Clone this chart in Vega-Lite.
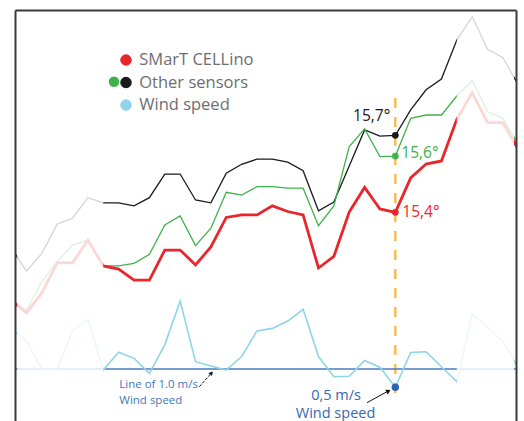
{
  "$schema": "https://vega.github.io/schema/vega-lite/v6.json",
  "width": 501,
  "height": 411,
  "autosize": "none",
  "padding": {"left": 15, "top": 10, "right": 8, "bottom": 0},
  "background": "white",
  "config": {"view": {"stroke": null}, "font": "Open Sans"},
  "data": {"values": [
    {"t":0,"series":"SMarT CELLino","value":15.058},{"t":1,"series":"SMarT CELLino","value":15.008},{"t":2,"series":"SMarT CELLino","value":15.086},{"t":3,"series":"SMarT CELLino","value":15.203},{"t":4,"series":"SMarT CELLino","value":15.203},{"t":5,"series":"SMarT CELLino","value":15.292},{"t":6,"series":"SMarT CELLino","value":15.191},{"t":7,"series":"SMarT CELLino","value":15.179},{"t":8,"series":"SMarT CELLino","value":15.136},{"t":9,"series":"SMarT CELLino","value":15.136},{"t":10,"series":"SMarT CELLino","value":15.253},{"t":11,"series":"SMarT CELLino","value":15.253},{"t":12,"series":"SMarT CELLino","value":15.195},{"t":13,"series":"SMarT CELLino","value":15.265},{"t":14,"series":"SMarT CELLino","value":15.380},{"t":15,"series":"SMarT CELLino","value":15.390},{"t":16,"series":"SMarT CELLino","value":15.390},{"t":17,"series":"SMarT CELLino","value":15.425},{"t":18,"series":"SMarT CELLino","value":15.403},{"t":19,"series":"SMarT CELLino","value":15.390},{"t":20,"series":"SMarT CELLino","value":15.183},{"t":21,"series":"SMarT CELLino","value":15.228},{"t":22,"series":"SMarT CELLino","value":15.401},{"t":23,"series":"SMarT CELLino","value":15.497},{"t":24,"series":"SMarT CELLino","value":15.413},{"t":25,"series":"SMarT CELLino","value":15.400},{"t":26,"series":"SMarT CELLino","value":15.534},{"t":27,"series":"SMarT CELLino","value":15.588},{"t":28,"series":"SMarT CELLino","value":15.600},{"t":29,"series":"SMarT CELLino","value":15.762},{"t":30,"series":"SMarT CELLino","value":15.866},{"t":31,"series":"SMarT CELLino","value":15.749},{"t":32,"series":"SMarT CELLino","value":15.749},{"t":33,"series":"SMarT CELLino","value":15.645},
    {"t":0,"series":"Other sensors","value":15.263},{"t":1,"series":"Other sensors","value":15.171},{"t":2,"series":"Other sensors","value":15.240},{"t":3,"series":"Other sensors","value":15.354},{"t":4,"series":"Other sensors","value":15.377},{"t":5,"series":"Other sensors","value":15.457},{"t":6,"series":"Other sensors","value":15.437},{"t":7,"series":"Other sensors","value":15.437},{"t":8,"series":"Other sensors","value":15.425},{"t":9,"series":"Other sensors","value":15.457},{"t":10,"series":"Other sensors","value":15.549},{"t":11,"series":"Other sensors","value":15.549},{"t":12,"series":"Other sensors","value":15.448},{"t":13,"series":"Other sensors","value":15.437},{"t":14,"series":"Other sensors","value":15.552},{"t":15,"series":"Other sensors","value":15.587},{"t":16,"series":"Other sensors","value":15.607},{"t":17,"series":"Other sensors","value":15.607},{"t":18,"series":"Other sensors","value":15.595},{"t":19,"series":"Other sensors","value":15.562},{"t":20,"series":"Other sensors","value":15.406},{"t":21,"series":"Other sensors","value":15.440},{"t":22,"series":"Other sensors","value":15.580},{"t":23,"series":"Other sensors","value":15.721},{"t":24,"series":"Other sensors","value":15.697},{"t":25,"series":"Other sensors","value":15.700},{"t":26,"series":"Other sensors","value":15.799},{"t":27,"series":"Other sensors","value":15.877},{"t":28,"series":"Other sensors","value":15.919},{"t":29,"series":"Other sensors","value":16.071},{"t":30,"series":"Other sensors","value":16.162},{"t":31,"series":"Other sensors","value":16.035},{"t":32,"series":"Other sensors","value":16.002},{"t":33,"series":"Other sensors","value":15.896},
    {"t":0,"series":"Other sensors 2","value":15.058},{"t":1,"series":"Other sensors 2","value":15.018},{"t":2,"series":"Other sensors 2","value":15.130},{"t":3,"series":"Other sensors 2","value":15.208},{"t":4,"series":"Other sensors 2","value":15.273},{"t":5,"series":"Other sensors 2","value":15.292},{"t":6,"series":"Other sensors 2","value":15.191},{"t":7,"series":"Other sensors 2","value":15.191},{"t":8,"series":"Other sensors 2","value":15.201},{"t":9,"series":"Other sensors 2","value":15.236},{"t":10,"series":"Other sensors 2","value":15.351},{"t":11,"series":"Other sensors 2","value":15.386},{"t":12,"series":"Other sensors 2","value":15.270},{"t":13,"series":"Other sensors 2","value":15.338},{"t":14,"series":"Other sensors 2","value":15.478},{"t":15,"series":"Other sensors 2","value":15.467},{"t":16,"series":"Other sensors 2","value":15.500},{"t":17,"series":"Other sensors 2","value":15.500},{"t":18,"series":"Other sensors 2","value":15.494},{"t":19,"series":"Other sensors 2","value":15.494},{"t":20,"series":"Other sensors 2","value":15.348},{"t":21,"series":"Other sensors 2","value":15.425},{"t":22,"series":"Other sensors 2","value":15.656},{"t":23,"series":"Other sensors 2","value":15.725},{"t":24,"series":"Other sensors 2","value":15.617},{"t":25,"series":"Other sensors 2","value":15.619},{"t":26,"series":"Other sensors 2","value":15.766},{"t":27,"series":"Other sensors 2","value":15.779},{"t":28,"series":"Other sensors 2","value":15.779},{"t":29,"series":"Other sensors 2","value":15.853},{"t":30,"series":"Other sensors 2","value":15.913},{"t":31,"series":"Other sensors 2","value":15.792},{"t":32,"series":"Other sensors 2","value":15.766},{"t":33,"series":"Other sensors 2","value":15.665},
    {"t":0,"series":"Wind speed","value":2.09},{"t":1,"series":"Wind speed","value":1.77},{"t":2,"series":"Wind speed","value":0.99},{"t":3,"series":"Wind speed","value":0.99},{"t":4,"series":"Wind speed","value":2.05},{"t":5,"series":"Wind speed","value":2.36},{"t":6,"series":"Wind speed","value":0.97},{"t":7,"series":"Wind speed","value":1.46},{"t":8,"series":"Wind speed","value":1.29},{"t":9,"series":"Wind speed","value":0.88},{"t":10,"series":"Wind speed","value":1.66},{"t":11,"series":"Wind speed","value":2.86},{"t":12,"series":"Wind speed","value":1.20},{"t":13,"series":"Wind speed","value":1.08},{"t":14,"series":"Wind speed","value":0.97},{"t":15,"series":"Wind speed","value":1.34},{"t":16,"series":"Wind speed","value":2.04},{"t":17,"series":"Wind speed","value":2.11},{"t":18,"series":"Wind speed","value":2.31},{"t":19,"series":"Wind speed","value":2.63},{"t":20,"series":"Wind speed","value":1.34},{"t":21,"series":"Wind speed","value":0.79},{"t":22,"series":"Wind speed","value":0.80},{"t":23,"series":"Wind speed","value":1.23},{"t":24,"series":"Wind speed","value":1.05},{"t":25,"series":"Wind speed","value":0.50},{"t":26,"series":"Wind speed","value":1.45},{"t":27,"series":"Wind speed","value":1.47},{"t":28,"series":"Wind speed","value":1.06},{"t":29,"series":"Wind speed","value":0.65},{"t":30,"series":"Wind speed","value":2.50},{"t":31,"series":"Wind speed","value":2.14},{"t":32,"series":"Wind speed","value":1.75},{"t":33,"series":"Wind speed","value":1.03}
  ]},
  "layer": [
    {
      "layer": [
        {
          "transform": [{"filter": "datum.series === 'Other sensors' || datum.series === 'Other sensors 2'"}],
          "mark": {"type": "line", "strokeWidth": 1.3, "clip": true},
          "encoding": {
            "x": {"field": "t", "type": "quantitative", "scale": {"domain": [0.255, 32.851], "nice": false, "zero": false},
                  "axis": {"orient": "top", "domain": true, "domainColor": "#3a3a3a", "domainWidth": 2, "ticks": false, "labels": false, "grid": false, "title": null, "zindex": 1}},
            "y": {"field": "value", "type": "quantitative", "scale": {"domain": [14.587, 16.188], "nice": false, "zero": false},
                  "axis": {"orient": "left", "domain": true, "domainColor": "#3a3a3a", "domainWidth": 2, "ticks": false, "labels": false, "grid": false, "title": null, "zindex": 1}},
            "color": {"field": "series", "type": "nominal",
                      "scale": {"domain": ["SMarT CELLino", "Other sensors", "Wind speed", "Other sensors 2"], "range": ["#e8262b", "#1a1a1a", "#8fd4e8", "#3fb34a"]},
                      "legend": {"orient": "none", "legendX": 102.75, "legendY": 41.75, "title": null,
                                 "values": ["SMarT CELLino", "Other sensors", "Wind speed"],
                                 "symbolType": "circle", "symbolSize": 110, "labelFont": "Open Sans", "labelFontSize": 16.5,
                                 "labelColor": "#6d6e71", "rowPadding": 5.5, "labelOffset": 5, "padding": 0,
                                 "encode": {"symbols": {"update": {
                                   "fill": {"scale": "color", "field": "value"},
                                   "stroke": {"signal": "datum.value === 'SMarT CELLino' ? '#333333' : scale('color', datum.value)"},
                                   "strokeWidth": {"value": 1}, "opacity": {"value": 1}}}}}}
          }
        },
        {
          "transform": [{"filter": "datum.series === 'SMarT CELLino'"}],
          "mark": {"type": "line", "strokeWidth": 2.8, "clip": true},
          "encoding": {
            "x": {"field": "t", "type": "quantitative", "scale": {"domain": [0.255, 32.851], "nice": false, "zero": false}},
            "y": {"field": "value", "type": "quantitative", "scale": {"domain": [14.587, 16.188], "nice": false, "zero": false}},
            "color": {"field": "series", "type": "nominal"}
          }
        },
        {
          "data": {"values": [{}]},
          "mark": {"type": "rule", "color": "#f9b94c", "strokeWidth": 2.4, "strokeDash": [10, 9]},
          "encoding": {
            "x": {"datum": 25, "type": "quantitative", "scale": {"domain": [0.255, 32.851], "nice": false, "zero": false}},
            "y": {"datum": 15.845, "type": "quantitative", "scale": {"domain": [14.587, 16.188], "nice": false, "zero": false}},
            "y2": {"datum": 14.669}
          }
        },
        {
          "transform": [{"filter": "datum.t === 25 && datum.series !== 'Wind speed'"}],
          "mark": {"type": "point", "filled": true, "size": 45, "opacity": 1},
          "encoding": {
            "x": {"field": "t", "type": "quantitative", "scale": {"domain": [0.255, 32.851], "nice": false, "zero": false}},
            "y": {"field": "value", "type": "quantitative", "scale": {"domain": [14.587, 16.188], "nice": false, "zero": false}},
            "fill": {"field": "series", "type": "nominal",
                     "scale": {"domain": ["Other sensors 2", "SMarT CELLino", "Other sensors", "Wind speed"], "range": ["#3fb34a", "#e8262b", "#1a1a1a", "#2b63b0"]},
                     "legend": {"orient": "none", "legendX": 90.75, "legendY": 63.45, "title": null, "values": ["Other sensors 2"],
                                "labelExpr": "''", "symbolType": "circle", "symbolSize": 110, "labelFontSize": 16.5, "padding": 0, "labelOffset": 0,
                                "symbolStrokeWidth": 0, "symbolOpacity": 1}}
          }
        },
        {
          "transform": [{"filter": "datum.t === 25 && datum.series === 'Other sensors'"}, {"calculate": "replace(format(datum.value, '.1f'), '.', ',') + '°'", "as": "label"}],
          "mark": {"type": "text", "align": "right", "baseline": "middle", "dx": -5, "dy": -19, "fontSize": 15.5, "font": "Open Sans", "color": "#1a1a1a"},
          "encoding": {
            "x": {"field": "t", "type": "quantitative", "scale": {"domain": [0.255, 32.851], "nice": false, "zero": false}},
            "y": {"field": "value", "type": "quantitative", "scale": {"domain": [14.587, 16.188], "nice": false, "zero": false}},
            "text": {"field": "label"}
          }
        },
        {
          "transform": [{"filter": "datum.t === 25 && datum.series === 'Other sensors 2'"}, {"calculate": "replace(format(datum.value, '.1f'), '.', ',') + '°'", "as": "label"}],
          "mark": {"type": "text", "align": "left", "baseline": "middle", "dx": 6, "dy": -3, "fontSize": 15.5, "font": "Open Sans", "color": "#3fb34a"},
          "encoding": {
            "x": {"field": "t", "type": "quantitative", "scale": {"domain": [0.255, 32.851], "nice": false, "zero": false}},
            "y": {"field": "value", "type": "quantitative", "scale": {"domain": [14.587, 16.188], "nice": false, "zero": false}},
            "text": {"field": "label"}
          }
        },
        {
          "transform": [{"filter": "datum.t === 25 && datum.series === 'SMarT CELLino'"}, {"calculate": "replace(format(datum.value, '.1f'), '.', ',') + '°'", "as": "label"}],
          "mark": {"type": "text", "align": "left", "baseline": "middle", "dx": 7, "dy": 0, "fontSize": 15.5, "font": "Open Sans", "color": "#e8262b"},
          "encoding": {
            "x": {"field": "t", "type": "quantitative", "scale": {"domain": [0.255, 32.851], "nice": false, "zero": false}},
            "y": {"field": "value", "type": "quantitative", "scale": {"domain": [14.587, 16.188], "nice": false, "zero": false}},
            "text": {"field": "label"}
          }
        }
      ]
    },
    {
      "layer": [
        {
          "data": {"values": [{}]},
          "mark": {"type": "rule", "color": "#4a7bbf", "strokeWidth": 1.6},
          "encoding": {
            "y": {"datum": 1, "type": "quantitative", "scale": {"domain": [-0.421, 10.809], "nice": false, "zero": false},
                  "axis": {"orient": "right", "domain": true, "domainColor": "#3a3a3a", "domainWidth": 2, "ticks": false, "labels": false, "grid": false, "title": null, "zindex": 1}}
          }
        },
        {
          "transform": [{"filter": "datum.series === 'Wind speed'"}],
          "mark": {"type": "line", "strokeWidth": 1.6, "clip": true},
          "encoding": {
            "x": {"field": "t", "type": "quantitative", "scale": {"domain": [0.255, 32.851], "nice": false, "zero": false}},
            "y": {"field": "value", "type": "quantitative", "scale": {"domain": [-0.421, 10.809], "nice": false, "zero": false}},
            "color": {"field": "series", "type": "nominal"}
          }
        },
        {
          "transform": [{"filter": "datum.t === 25 && datum.series === 'Wind speed'"}],
          "mark": {"type": "point", "filled": true, "size": 55, "opacity": 1},
          "encoding": {
            "x": {"field": "t", "type": "quantitative", "scale": {"domain": [0.255, 32.851], "nice": false, "zero": false}},
            "y": {"field": "value", "type": "quantitative", "scale": {"domain": [-0.421, 10.809], "nice": false, "zero": false}},
            "fill": {"field": "series", "type": "nominal"}
          }
        },
        {
          "data": {"values": [{}]},
          "mark": {"type": "rule", "color": "#111111", "strokeWidth": 1},
          "encoding": {
            "x": {"datum": 23.157, "type": "quantitative", "scale": {"domain": [0.255, 32.851], "nice": false, "zero": false}},
            "y": {"datum": 0.079, "type": "quantitative", "scale": {"domain": [-0.421, 10.809], "nice": false, "zero": false}},
            "x2": {"datum": 24.588}, "y2": {"datum": 0.41}
          }
        },
        {
          "data": {"values": [{}]},
          "mark": {"type": "point", "shape": "triangle-up", "filled": true, "size": 28, "angle": 62, "color": "#111111", "opacity": 1},
          "encoding": {
            "x": {"datum": 24.556, "type": "quantitative", "scale": {"domain": [0.255, 32.851], "nice": false, "zero": false}},
            "y": {"datum": 0.399, "type": "quantitative", "scale": {"domain": [-0.421, 10.809], "nice": false, "zero": false}}
          }
        },
        {
          "data": {"values": [{}]},
          "mark": {"type": "rule", "color": "#111111", "strokeWidth": 1, "strokeDash": [3, 1.5]},
          "encoding": {
            "x": {"datum": 12.246, "type": "quantitative", "scale": {"domain": [0.255, 32.851], "nice": false, "zero": false}},
            "y": {"datum": 0.516, "type": "quantitative", "scale": {"domain": [-0.421, 10.809], "nice": false, "zero": false}},
            "x2": {"datum": 13.04}, "y2": {"datum": 0.89}
          }
        },
        {
          "data": {"values": [{}]},
          "mark": {"type": "point", "shape": "triangle-up", "filled": true, "size": 22, "angle": 42, "color": "#111111", "opacity": 1},
          "encoding": {
            "x": {"datum": 13.04, "type": "quantitative", "scale": {"domain": [0.255, 32.851], "nice": false, "zero": false}},
            "y": {"datum": 0.89, "type": "quantitative", "scale": {"domain": [-0.421, 10.809], "nice": false, "zero": false}}
          }
        },
        {
          "data": {"values": [{}]},
          "mark": {"type": "text", "text": "0,5 m/s", "align": "center", "baseline": "middle", "fontSize": 14.5, "font": "Open Sans", "color": "#3469b3"},
          "encoding": {
            "x": {"datum": 21.14, "type": "quantitative", "scale": {"domain": [0.255, 32.851], "nice": false, "zero": false}},
            "y": {"datum": 0.27, "type": "quantitative", "scale": {"domain": [-0.421, 10.809], "nice": false, "zero": false}}
          }
        },
        {
          "data": {"values": [{}]},
          "mark": {"type": "text", "text": "Wind speed", "align": "center", "baseline": "middle", "fontSize": 14.5, "font": "Open Sans", "color": "#3469b3"},
          "encoding": {
            "x": {"datum": 21.11, "type": "quantitative", "scale": {"domain": [0.255, 32.851], "nice": false, "zero": false}},
            "y": {"datum": -0.22, "type": "quantitative", "scale": {"domain": [-0.421, 10.809], "nice": false, "zero": false}}
          }
        },
        {
          "data": {"values": [{}]},
          "mark": {"type": "text", "text": "Line of 1.0 m/s", "align": "left", "baseline": "middle", "fontSize": 11.5, "font": "Open Sans", "color": "#4476bb"},
          "encoding": {
            "x": {"datum": 7.04, "type": "quantitative", "scale": {"domain": [0.255, 32.851], "nice": false, "zero": false}},
            "y": {"datum": 0.56, "type": "quantitative", "scale": {"domain": [-0.421, 10.809], "nice": false, "zero": false}}
          }
        },
        {
          "data": {"values": [{}]},
          "mark": {"type": "text", "text": "Wind speed", "align": "left", "baseline": "middle", "fontSize": 11.5, "font": "Open Sans", "color": "#4476bb"},
          "encoding": {
            "x": {"datum": 7.04, "type": "quantitative", "scale": {"domain": [0.255, 32.851], "nice": false, "zero": false}},
            "y": {"datum": 0.135, "type": "quantitative", "scale": {"domain": [-0.421, 10.809], "nice": false, "zero": false}}
          }
        }
      ]
    },
    {
      "data": {"values": [{}]},
      "mark": {"type": "rect", "fill": "white", "opacity": 0.82},
      "encoding": {
        "x": {"datum": 0.4, "type": "quantitative", "scale": {"domain": [0.255, 32.851], "nice": false, "zero": false}},
        "x2": {"datum": 6}
      }
    },
    {
      "data": {"values": [{}]},
      "mark": {"type": "rect", "fill": "white", "opacity": 0.82},
      "encoding": {
        "x": {"datum": 29, "type": "quantitative", "scale": {"domain": [0.255, 32.851], "nice": false, "zero": false}},
        "x2": {"datum": 32.72}
      }
    }
  ],
  "resolve": {"scale": {"y": "independent"}}
}
